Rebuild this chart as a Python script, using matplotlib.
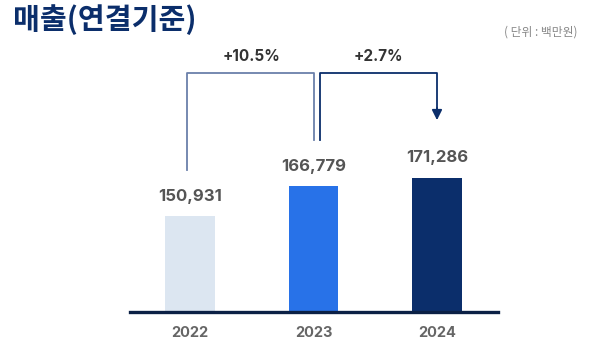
import matplotlib.pyplot as plt

# data
years = ['2022', '2023', '2024']
sales = [150931, 166779, 171286]
bar_colors = ['#dce6f1', '#2872e8', '#0b2e6b']

navy = '#0b2e6b'
kr_font = ['Noto Sans CJK KR', 'DejaVu Sans']
num_font = ['Inter', 'Noto Sans CJK KR', 'DejaVu Sans']

fig = plt.figure(figsize=(6.16, 3.42), dpi=100)
ax = fig.add_axes([130 / 616, 30 / 342, 368 / 616, 272 / 342])

x = list(range(len(years)))
ax.bar(x, sales, width=0.4, color=bar_colors, zorder=2)
ax.set_xlim(-0.486, 2.494)
ax.set_ylim(100000, 244300)

# baseline
ax.axhline(100000, color='#0b2045', lw=2.4, zorder=3, clip_on=False)

# value labels
for xi, v in zip(x, sales):
    ax.text(xi, v + 10500, f'{v:,}', ha='center', va='center',
            fontsize=12, fontweight='bold', color='#555555', family=num_font)

# year labels
for xi, yr in zip(x, years):
    ax.text(xi, 100000 - 11000, yr, ha='center', va='center',
            fontsize=10.5, fontweight='bold', color='#666666', family=num_font)

# growth brackets
top = 226800
gap = 24400
g1 = (sales[1] / sales[0] - 1) * 100
g2 = (sales[2] / sales[1] - 1) * 100

ax.plot([-0.025, -0.025, 1.0, 1.0],
        [sales[0] + gap, top, top, sales[1] + gap],
        color='#6b80aa', lw=1.3, zorder=3)
ax.plot([1.05, 1.05, 2.0, 2.0],
        [sales[1] + gap, top, top, sales[2] + 36000],
        color=navy, lw=1.3, zorder=3)
ax.annotate('', xy=(2.0, sales[2] + 30500), xytext=(2.0, sales[2] + 37000),
            arrowprops=dict(arrowstyle='-|>', color=navy, lw=1.3,
                            mutation_scale=15, shrinkA=0, shrinkB=0))

ax.text(0.5, top + 9000, f'+{g1:.1f}%', ha='center', va='center',
        fontsize=11, fontweight='bold', color='#333333', family=num_font)
ax.text(1.525, top + 9000, f'+{g2:.1f}%', ha='center', va='center',
        fontsize=11, fontweight='bold', color='#333333', family=num_font)

ax.axis('off')

# titles
fig.text(13 / 616, 1 - 20 / 342, '매출(연결기준)', ha='left', va='center',
         fontsize=21, fontweight='bold', color=navy, family=kr_font)
fig.text(578 / 616, 1 - 32 / 342, '( 단위 : 백만원)', ha='right', va='center',
         fontsize=8.5, color='#888888', family=kr_font)

plt.savefig('out.png', dpi=100)
plt.close()
